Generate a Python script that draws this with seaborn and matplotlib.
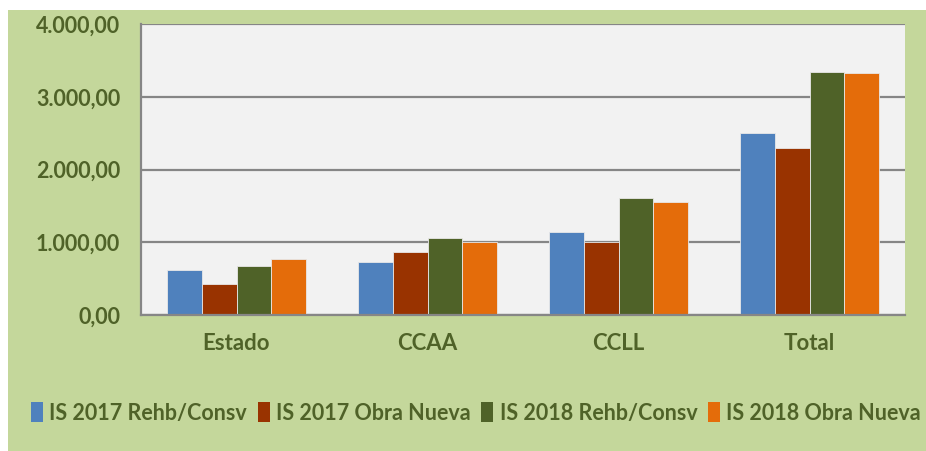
import matplotlib
matplotlib.use("Agg")
import matplotlib.pyplot as plt
import matplotlib.ticker as mticker
from matplotlib.patches import Rectangle, Patch
import seaborn as sns
import pandas as pd

categorias = ["Estado", "CCAA", "CCLL", "Total"]
series = ["IS 2017 Rehb/Consv", "IS 2017 Obra Nueva", "IS 2018 Rehb/Consv", "IS 2018 Obra Nueva"]
rehb_2017 = [619, 728, 1141, 2497]
nueva_2017 = [426, 866, 1003, 2291]
rehb_2018 = [678, 1058, 1608, 3340]
nueva_2018 = [770, 1003, 1553, 3322]
colores = ["#4F81BD", "#993300", "#4F6228", "#E46C0A"]

df = pd.DataFrame({
    "cat": categorias * 4,
    "serie": [s for s in series for _ in categorias],
    "valor": rehb_2017 + nueva_2017 + rehb_2018 + nueva_2018,
})

sns.set_style("white")
plt.rcParams["font.family"] = ["Lato", "DejaVu Sans"]
texto = "#4F6228"

fig = plt.figure(figsize=(9.26, 4.51), dpi=100)
fig.patch.set_facecolor("white")
fig.patches.append(Rectangle((8 / 926, 0), 1, 1 - 10 / 451, transform=fig.transFigure,
                             facecolor="#C4D79B", edgecolor="none", zorder=-10))

ax = fig.add_axes([141 / 926, 1 - 315 / 451, 764 / 926, 291 / 451])
ax.set_zorder(5)
sns.barplot(data=df, x="cat", y="valor", hue="serie", palette=colores, width=0.73,
            saturation=1, edgecolor="#e8e8e8", linewidth=0.6, ax=ax, legend=False)
ax.set_facecolor("#F2F2F2")
ax.set_ylim(0, 4000)
ax.set_xlim(-0.5, 3.5)
ax.set_yticks([0, 1000, 2000, 3000, 4000])
ax.yaxis.set_major_formatter(mticker.FuncFormatter(
    lambda v, p: f"{v:,.2f}".replace(",", "X").replace(".", ",").replace("X", ".")))
ax.grid(axis="y", color="#868686", linewidth=1.6)
ax.set_axisbelow(True)
ax.set_xlabel("")
ax.set_ylabel("")
for s in ["top", "right"]:
    ax.spines[s].set_visible(False)
for s in ["left", "bottom"]:
    ax.spines[s].set_color("#868686")
    ax.spines[s].set_linewidth(1.6)

ax.tick_params(axis="y", length=7, width=1.6, color="#868686", pad=8,
               labelsize=15.5, labelcolor=texto)
ax.tick_params(axis="x", which="major", length=0, pad=13, labelsize=16, labelcolor=texto)
ax.set_xticks([0.5, 1.5, 2.5, 3.5], minor=True)
ax.tick_params(axis="x", which="minor", length=7, width=1.6, color="#868686")
for lab in ax.get_xticklabels() + ax.get_yticklabels():
    lab.set_fontweight("bold")

handles = [Patch(facecolor=c, edgecolor="none") for c in colores]
leg = fig.legend(handles, series, loc="center", bbox_to_anchor=(476 / 926, 1 - 413 / 451),
                 ncol=4, frameon=False, handlelength=0.55, handleheight=1.0, handletextpad=0.3,
                 columnspacing=0.5, prop={"size": 15.5, "weight": "bold"}, labelcolor=texto)
leg.set_zorder(6)

fig.savefig("out.png", dpi=100, facecolor=fig.get_facecolor())
